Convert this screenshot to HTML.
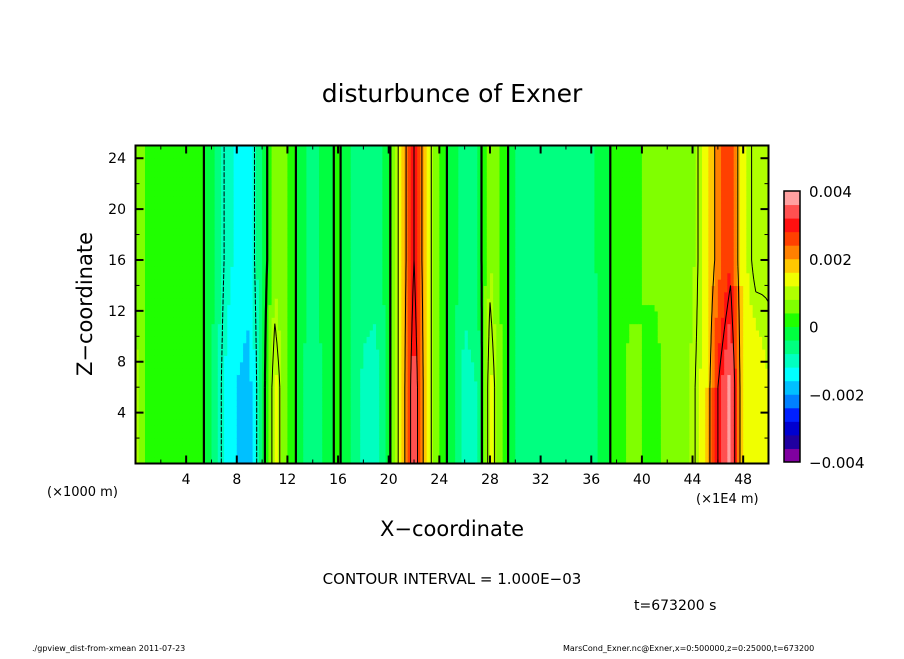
<!DOCTYPE html>
<html><head><meta charset="utf-8"><style>
body{margin:0;background:#fff}
svg text{font-family:"DejaVu Sans","Liberation Sans",sans-serif;fill:#000}
</style></head><body>
<svg id="chart" width="904" height="654" xmlns="http://www.w3.org/2000/svg">
<text x="452" y="102" font-size="25" text-anchor="middle">disturbunce of Exner</text>
<g id="field"></g>
<g id="lines"></g>
<rect x="135.5" y="145.5" width="633" height="318" fill="none" stroke="#000" stroke-width="2"/>
<g id="axes"></g>
<text x="452" y="536" font-size="21" text-anchor="middle">X−coordinate</text>
<text transform="translate(92,304) rotate(-90)" font-size="21" text-anchor="middle">Z−coordinate</text>
<text x="47" y="496" font-size="13">(×1000 m)</text>
<text x="696" y="503" font-size="13">(×1E4 m)</text>
<text x="452" y="584" font-size="15" text-anchor="middle">CONTOUR INTERVAL = 1.000E−03</text>
<text x="634" y="610" font-size="14">t=673200 s</text>
<text x="32" y="651" font-size="8">./gpview_dist-from-xmean  2011-07-23</text>
<text x="563" y="651" font-size="8">MarsCond_Exner.nc@Exner,x=0:500000,z=0:25000,t=673200</text>
<g id="cbar"></g>
</svg>
<script>
const colors=["#8000a0","#2000a0","#0000d0","#0020ff","#0080ff","#00c0ff","#00ffff","#00ffc0","#00ff80","#00ff40","#20ff00","#80ff00","#b0ff00","#f0ff00","#ffc800","#ff8000","#ff4000","#ff1010","#ff5050","#ffa0a0"];
const xTicks=[4,8,12,16,20,24,28,32,36,40,44,48];
const yTicks=[4,8,12,16,20,24];
const cbarTicks=["0.004","0.002","0","−0.002","−0.004"];
// values ×1e-4 at x=0..50 (upper layer, z>=16) and lower layer (z<=6)
const valTop=[6,3,2,2,2,2,-3,-10,-13,-14,-4,6,4,-2,-6,-2,1,-4,-6,-6,-2,14,30,14,3,-2,-6,-4,8,3,-4,-5,-5,-5,-5,-5,-5,-2,2,3,4,5,5,5,7,14,22,28,14,8,9];
const valBottom=[10,3,2,2,2,2,-3,-12,-16,-18,-4,14,4,-2,-8,-2,1,-4,-9,-10,-2,14,36,14,3,-2,-10,-8,14,3,-4,-7,-7,-7,-7,-7,-7,-2,2,5,4,2,6,6,9,14,30,38,14,16,12];
const NS="http://www.w3.org/2000/svg";
const X0=135.5,X1=768.5,Y0=463.5,Y1=145.5;
const sx=x=>X0+(X1-X0)*x/50, sy=z=>Y0-(Y0-Y1)*z/25;
function mk(t,a,p){const e=document.createElementNS(NS,t);for(const k in a)e.setAttribute(k,a[k]);p.appendChild(e);return e;}
function colAt(arr,x){const i=Math.min(49,Math.floor(x)),f=x-i;return arr[i]*(1-f)+arr[i+1]*f;}
function val(x,z){const t=colAt(valTop,x),b=colAt(valBottom,x);let w=(z-6)/10;w=Math.max(0,Math.min(1,w));return b*(1-w)+t*w;}
const field=document.getElementById('field');
const dx=0.25,dz=0.5;
for(let x=0;x<50;x+=dx){for(let z=0;z<25;z+=dz){
 const v=val(x+dx/2,z+dz/2);let b=Math.floor((v+40)/4);b=Math.max(0,Math.min(19,b));
 const r=mk('rect',{x:sx(x),y:sy(z+dz),width:sx(x+dx)-sx(x)+0.6,height:sy(z)-sy(z+dz)+0.6,fill:colors[b]},field);
 
 
}}
const lines=document.getElementById('lines');
const levels=[-10,0,10,20,30];
const gx=0.5,gz=0.5;
levels.forEach(L=>{
 let d="";
 for(let x=0;x<50;x+=gx)for(let z=0;z<25;z+=gz){
  const c=[[x,z],[x+gx,z],[x+gx,z+gz],[x,z+gz]];const v=c.map(p=>val(p[0],p[1])-L);
  const pts=[];
  for(let k=0;k<4;k++){const a=v[k],b=v[(k+1)%4];if((a<0)!==(b<0)){const t=a/(a-b);const p=c[k],q=c[(k+1)%4];pts.push([p[0]+(q[0]-p[0])*t,p[1]+(q[1]-p[1])*t]);}}
  for(let k=0;k+1<pts.length;k+=2)d+="M"+sx(pts[k][0]).toFixed(1)+","+sy(pts[k][1]).toFixed(1)+"L"+sx(pts[k+1][0]).toFixed(1)+","+sy(pts[k+1][1]).toFixed(1);
 }
 const p=mk('path',{d:d,fill:"none",stroke:"#000","stroke-width":L===0?2.2:1,"stroke-dasharray":L<0?"5,4":"none"},lines);
 
 
});
const axes=document.getElementById('axes');
xTicks.forEach(t=>{
 mk('line',{x1:sx(t),x2:sx(t),y1:Y0,y2:Y0-8,stroke:"#000","stroke-width":2},axes);
 mk('line',{x1:sx(t),x2:sx(t),y1:Y1,y2:Y1+8,stroke:"#000","stroke-width":2},axes);
 const tx=mk('text',{x:sx(t),y:484,"font-size":14,"text-anchor":"middle"},axes);tx.textContent=t;
 
 
});
for(let t=2;t<50;t+=4){mk('line',{x1:sx(t),x2:sx(t),y1:Y0,y2:Y0-4,stroke:"#000"},axes);mk('line',{x1:sx(t),x2:sx(t),y1:Y1,y2:Y1+4,stroke:"#000"},axes);}
yTicks.forEach(t=>{
 mk('line',{x1:X0,x2:X0+8,y1:sy(t),y2:sy(t),stroke:"#000","stroke-width":2},axes);
 mk('line',{x1:X1,x2:X1-8,y1:sy(t),y2:sy(t),stroke:"#000","stroke-width":2},axes);
 const tx=mk('text',{x:126,y:sy(t)+5,"font-size":14,"text-anchor":"end"},axes);tx.textContent=t;
 
 
});
for(let t=2;t<25;t+=4){mk('line',{x1:X0,x2:X0+4,y1:sy(t),y2:sy(t),stroke:"#000"},axes);mk('line',{x1:X1,x2:X1-4,y1:sy(t),y2:sy(t),stroke:"#000"},axes);}
const cb=document.getElementById('cbar');
const cy0=462,cy1=191,ch=(cy0-cy1)/20;
colors.forEach((c,i)=>{const r=mk('rect',{x:784,y:cy0-(i+1)*ch,width:16,height:ch+0.5,fill:c},cb);
 
 });
mk('rect',{x:784,y:cy1,width:16,height:cy0-cy1,fill:"none",stroke:"#000","stroke-width":1.5},cb);
cbarTicks.forEach((s,i)=>{const tx=mk('text',{x:809,y:cy1+i*(cy0-cy1)/4+6,"font-size":15},cb);tx.textContent=s;
 
 });
</script>
</body></html>
